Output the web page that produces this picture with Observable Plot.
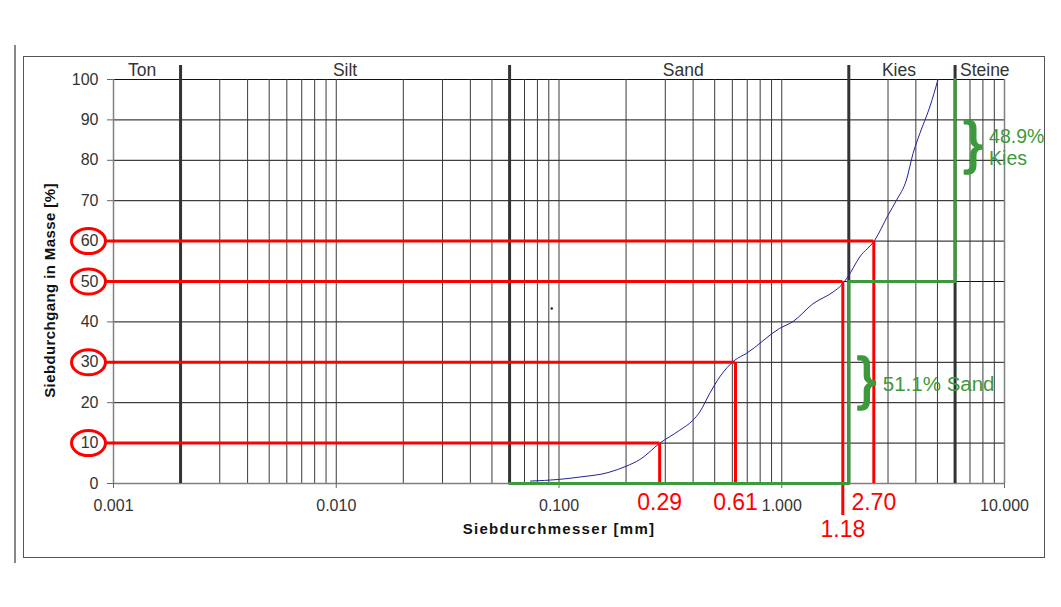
<!DOCTYPE html>
<html>
<head>
<meta charset="utf-8">
<script src="https://cdn.jsdelivr.net/npm/d3@7"></script>
<script src="https://cdn.jsdelivr.net/npm/@observablehq/plot@0.6"></script>
<style>
  html, body { margin: 0; padding: 0; background: #fff; }
  body { width: 1061px; height: 607px; overflow: hidden; position: relative; font-family: "Liberation Sans", Arial, sans-serif; }
  #chart { position: absolute; left: 0; top: 0; }
  #frame { position: absolute; left: 23px; top: 56px; width: 1022px; height: 502px; border: 1px solid #555; box-sizing: border-box; pointer-events: none; }
  #bar { position: absolute; left: 14px; top: 45px; width: 2px; height: 518px; background: #888; }
</style>
</head>
<body>
<div id="chart"></div>
<div id="bar"></div>
<div id="frame"></div>
<script>
// ---- data ----
// grading curve: sieve diameter [mm] and percentage passing [%]
const sieveSizes = [0.0745, 0.0995, 0.124, 0.166, 0.2006, 0.2303, 0.2838, 0.3485, 0.400, 0.4285, 0.475, 0.527, 0.615, 0.694, 0.979, 1.124, 1.382, 1.700, 1.853, 1.972, 2.241, 2.614, 3.000, 3.273, 3.626, 3.886, 4.165, 4.62, 5.03];
const passing    = [0.6, 1.0, 1.6, 2.7, 4.3, 5.9, 10.0, 13.2, 15.7, 17.7, 22.3, 26.4, 30.5, 32.2, 38.4, 40.1, 44.5, 47.4, 49.1, 51.0, 56.1, 60.2, 66.4, 70.1, 75.1, 81.7, 86.6, 93.2, 100];

// soil class boundaries [mm] and names
const zoneBounds = [0.002, 0.06, 2, 6];
const zoneNames  = ["Ton", "Silt", "Sand", "Kies", "Steine"];

// read-off lines (d10, d30, d50, d60)
const readPercents = [10, 30, 50, 60];
const readSizes    = [0.283, 0.62, 1.88, 2.59];
const readLabels   = ["0.29", "0.61", "1.18", "2.70"];

// sand / gravel split (green step)
const stepSizes    = [0.06, 2, 2, 6, 6];
const stepPercents = [0, 0, 50, 50, 100];
const shareLines   = [["48.9%", "Kies"], ["51.1% Sand"]];
const shareAtSize  = [6, 2];
const shareAtPct   = [83, 24.5];

// axes
const yTicks = [0, 10, 20, 30, 40, 50, 60, 70, 80, 90, 100];
const xTicks = [0.001, 0.01, 0.1, 1, 10];
const xTickLabels = ["0.001", "0.010", "0.100", "1.000", "10.000"];
const xDomain = [0.001, 10];

// stray dot in the reference
const strayDot = [{d: 0.0928, p: 43.3}];

// ---- derived tables ----
const curve = sieveSizes.map((d, i) => ({d, p: passing[i]}));
const reads = readSizes.map((d, i) => ({d, p: readPercents[i], label: readLabels[i]}));
const step = stepSizes.map((d, i) => ({d, p: stepPercents[i]}));
const edges = [xDomain[0], ...zoneBounds, xDomain[1]];
const zones = zoneNames.map((name, i) => ({name, d: Math.sqrt(edges[i] * edges[i + 1])}));
const zoneLabelShift = [-5, 0, 4, -3, 5]; // pixel nudges for the class labels
const gridX = [];
for (let e = -3; e <= 0; e++) for (let k = 1; k <= 9; k++) gridX.push(k * Math.pow(10, e));
gridX.push(10);
const shares = shareAtSize.map((d, i) => ({d, p: shareAtPct[i]}));
const shareTextRows = [];
shareLines.forEach((lines, i) => lines.forEach((t, j) => shareTextRows.push({t, d: shareAtSize[i], p: shareAtPct[i], row: j - (lines.length - 1) / 2})));

const RED = "#ff0000", GREEN = "#3c9a3c", INK = "#333";

const ellipse = {
  draw(ctx) {
    const rx = 17, ry = 12.5, k = 0.5523;
    ctx.moveTo(rx, 0);
    ctx.bezierCurveTo(rx, k * ry, k * rx, ry, 0, ry);
    ctx.bezierCurveTo(-k * rx, ry, -rx, k * ry, -rx, 0);
    ctx.bezierCurveTo(-rx, -k * ry, -k * rx, -ry, 0, -ry);
    ctx.bezierCurveTo(k * rx, -ry, rx, -k * ry, rx, 0);
    ctx.closePath();
    ctx.moveTo(rx, 0);
    ctx.lineTo(rx + 9, 0);
  }
};

const chart = Plot.plot({
  width: 1061,
  height: 607,
  marginLeft: 113,
  marginRight: 57,
  marginTop: 79,
  marginBottom: 124,
  style: {background: "transparent", fontFamily: "'Liberation Sans', Arial, sans-serif"},
  x: {type: "log", domain: xDomain},
  y: {domain: [0, 100]},
  marks: [
    // grid
    Plot.ruleY(yTicks, {y: d => d, x1: xDomain[0], x2: xDomain[1], stroke: "#111", strokeWidth: 1}),
    Plot.ruleX(gridX, {x: d => d, y1: 100, y2: 0, stroke: "#3a3a3a", strokeWidth: 1}),
    Plot.ruleX([xDomain[0], xDomain[1]], {x: d => d, y1: 100, y2: 0, stroke: "#808080", strokeWidth: 1.5}),
    Plot.ruleY([0], {x1: xDomain[0], x2: xDomain[1], stroke: "#808080", strokeWidth: 1.5}),
    // axes
    Plot.axisY({ticks: yTicks, tickSize: 6, tickPadding: 9, fontSize: 16, stroke: "#666", fill: INK, label: null}),
    Plot.axisX({ticks: xTicks, tickFormat: (d) => xTickLabels[xTicks.indexOf(d)], tickSize: 5, tickPadding: 11, fontSize: 16, stroke: "#666", fill: INK, label: null}),
    // class boundaries
    Plot.ruleX(zoneBounds, {x: d => d, y1: 100, y2: 0, insetTop: -14, stroke: "#333", strokeWidth: 3}),
    ...zones.map((z, i) => Plot.text([z], {x: "d", y: 100, dy: -9, dx: zoneLabelShift[i], text: "name", fontSize: 17.5, fill: INK})),
    // grading curve
    Plot.line(curve, {x: "d", y: "p", stroke: "#23239a", strokeWidth: 1, curve: "monotone-x"}),
    Plot.dot(strayDot, {x: "d", y: "p", r: 1.2, fill: "#222", stroke: null}),
    // red read-off lines
    Plot.ruleY(reads, {y: "p", x1: xDomain[0], x2: "d", stroke: RED, strokeWidth: 3}),
    Plot.ruleX(reads.filter(r => r.label !== "1.18"), {x: "d", y1: "p", y2: 0, stroke: RED, strokeWidth: 3}),
    Plot.ruleX(reads.filter(r => r.label === "1.18"), {x: "d", y1: "p", y2: 0, insetBottom: -32, stroke: RED, strokeWidth: 3}),
    Plot.dot(reads, {x: xDomain[0], y: "p", dx: -25, symbol: ellipse, r: 1, fill: "none", stroke: RED, strokeWidth: 3}),
    Plot.text(reads.filter(r => r.label !== "1.18"), {x: "d", y: 0, dy: 19, text: "label", fontSize: 23, fill: RED}),
    Plot.text(reads.filter(r => r.label === "1.18"), {x: "d", y: 0, dy: 46, text: "label", fontSize: 23, fill: RED}),
    // green sand/gravel step
    Plot.line(step, {x: "d", y: "p", stroke: GREEN, strokeWidth: 3, curve: "linear"}),
    Plot.text(shares, {x: "d", y: "p", dx: 18, dy: -5, text: () => "}", fontSize: 58, fill: GREEN, stroke: GREEN, strokeWidth: 1.6, textAnchor: "middle"}),
    Plot.text(shareTextRows.filter(r => r.row < 0), {x: "d", y: "p", dx: 34, dy: -11, text: "t", fontSize: 19.5, fill: GREEN, textAnchor: "start"}),
    Plot.text(shareTextRows.filter(r => r.row > 0), {x: "d", y: "p", dx: 34, dy: 11, text: "t", fontSize: 19.5, fill: GREEN, textAnchor: "start"}),
    Plot.text(shareTextRows.filter(r => r.row === 0), {x: "d", y: "p", dx: 34, text: "t", fontSize: 20.5, fill: GREEN, textAnchor: "start"}),
    // axis titles
    Plot.text(["Siebdurchgang in Masse [%]"], {frameAnchor: "left", dx: -63, dy: 9, rotate: -90, textAnchor: "middle", text: d => d, fontSize: 15, fontWeight: "bold", fill: "#111"}),
    Plot.text(["Siebdurchmesser [mm]"], {frameAnchor: "bottom", dy: 50, textAnchor: "middle", text: d => d, fontSize: 15, fontWeight: "bold", fill: "#111"})
  ]
});
chart.querySelectorAll("text").forEach(t => {
  if (t.textContent === "Siebdurchmesser [mm]") t.style.letterSpacing = "1.3px";
  if (t.textContent === "Siebdurchgang in Masse [%]") t.style.letterSpacing = "0.4px";
});
document.getElementById("chart").appendChild(chart);
</script>
</body>
</html>
